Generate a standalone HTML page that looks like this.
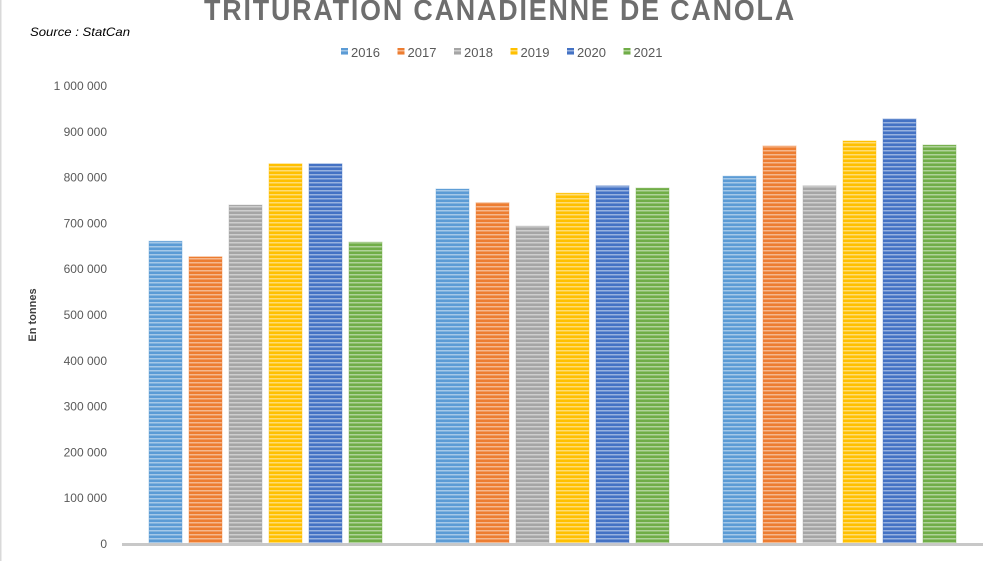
<!DOCTYPE html>
<html><head><meta charset="utf-8"><style>
html,body{margin:0;padding:0;background:#fff;width:1000px;height:561px;overflow:hidden}
svg text{font-family:"Liberation Sans",sans-serif}
</style></head><body>
<svg width="1000" height="561" viewBox="0 0 1000 561" xmlns="http://www.w3.org/2000/svg">
<defs id="defs"></defs>
<rect x="0" y="0" width="1.5" height="561" fill="#d9d9d9"/>
<text x="500" y="20" text-anchor="middle" font-size="29" font-weight="bold" fill="#6e6e6e" letter-spacing="2" textLength="592" lengthAdjust="spacingAndGlyphs">TRITURATION CANADIENNE DE CANOLA</text>
<text x="30" y="36" font-size="12" font-style="italic" fill="#000" textLength="100" lengthAdjust="spacingAndGlyphs">Source : StatCan</text>
<g id="legend"></g>
<g id="yaxis"></g>
<text transform="translate(36,315) rotate(-90)" text-anchor="middle" font-size="11" font-weight="bold" fill="#404040">En tonnes</text>
<g id="bars"></g>
<rect x="122" y="543" width="861" height="3" fill="#c8c8c8"/>
</svg>
<script>
const categories = ["A", "B", "C"];
const seriesNames = ["2016","2017","2018","2019","2020","2021"];
const s2016 = [661000, 775000, 803000];
const s2017 = [627000, 745000, 869000];
const s2018 = [740000, 694000, 782000];
const s2019 = [830000, 766000, 880000];
const s2020 = [830000, 782000, 928000];
const s2021 = [659000, 777000, 871000];
const yTicks = [0,100000,200000,300000,400000,500000,600000,700000,800000,900000,1000000];
const yTickLabels = ["0","100 000","200 000","300 000","400 000","500 000","600 000","700 000","800 000","900 000","1 000 000"];

const series = [s2016,s2017,s2018,s2019,s2020,s2021];
const colors = ["#5b9bd5","#ed7d31","#a5a5a5","#ffc000","#4472c4","#70ad47"];
const NS = "http://www.w3.org/2000/svg";
const plotL = 122, plotR = 983, y0 = 544, yTop = 86, yMax = 1000000;
const yScale = v => y0 - (v / yMax) * (y0 - yTop);
const groupW = (plotR - plotL) / categories.length;
const barW = 33, barStep = 40;
const xBar = (ci, si) => plotL + ci * groupW + (groupW - (barStep * 5 + barW)) / 2 + si * barStep;

const defs = document.getElementById('defs');
colors.forEach((c, i) => {
  const p = document.createElementNS(NS, 'pattern');
  p.setAttribute('id', 'pat' + i);
  p.setAttribute('width', '8'); p.setAttribute('height', '4');
  p.setAttribute('patternUnits', 'userSpaceOnUse');
  const r1 = document.createElementNS(NS, 'rect');
  r1.setAttribute('width', '8'); r1.setAttribute('height', '4'); r1.setAttribute('fill', c);
  const r2 = document.createElementNS(NS, 'rect');
  r2.setAttribute('width', '8'); r2.setAttribute('height', '1.5'); r2.setAttribute('y', '2'); r2.setAttribute('fill', '#ffffff'); r2.setAttribute('opacity', '0.45');
  p.appendChild(r1); p.appendChild(r2); defs.appendChild(p);
});

const yaxis = document.getElementById('yaxis');
yTicks.forEach((t, i) => {
  const tx = document.createElementNS(NS, 'text');
  
  
  tx.setAttribute('x', 107); tx.setAttribute('y', yScale(t) + 4);
  tx.setAttribute('text-anchor', 'end'); tx.setAttribute('font-size', '12'); tx.setAttribute('fill', '#595959');
  tx.textContent = yTickLabels[i];
  yaxis.appendChild(tx);
});

const bars = document.getElementById('bars');
categories.forEach((cat, ci) => {
  series.forEach((s, si) => {
    const r = document.createElementNS(NS, 'rect');
    
    
    const y = yScale(s[ci]);
    r.setAttribute('x', xBar(ci, si)); r.setAttribute('y', y);
    r.setAttribute('width', barW); r.setAttribute('height', y0 - y);
    r.setAttribute('fill', 'url(#pat' + si + ')');
    r.setAttribute('stroke', colors[si]); r.setAttribute('stroke-opacity', '0.4');
    bars.appendChild(r);
  });
});

const legend = document.getElementById('legend');
seriesNames.forEach((n, i) => {
  const x = 341 + i * 56.5;
  const r = document.createElementNS(NS, 'rect');
  
  
  r.setAttribute('x', x); r.setAttribute('y', 48); r.setAttribute('width', 7); r.setAttribute('height', 7);
  r.setAttribute('fill', 'url(#pat' + i + ')');
  legend.appendChild(r);
  const t = document.createElementNS(NS, 'text');
  
  
  t.setAttribute('x', x + 10); t.setAttribute('y', 57);
  t.setAttribute('font-size', '13'); t.setAttribute('fill', '#595959');
  t.textContent = n;
  legend.appendChild(t);
});
</script>
</body></html>
